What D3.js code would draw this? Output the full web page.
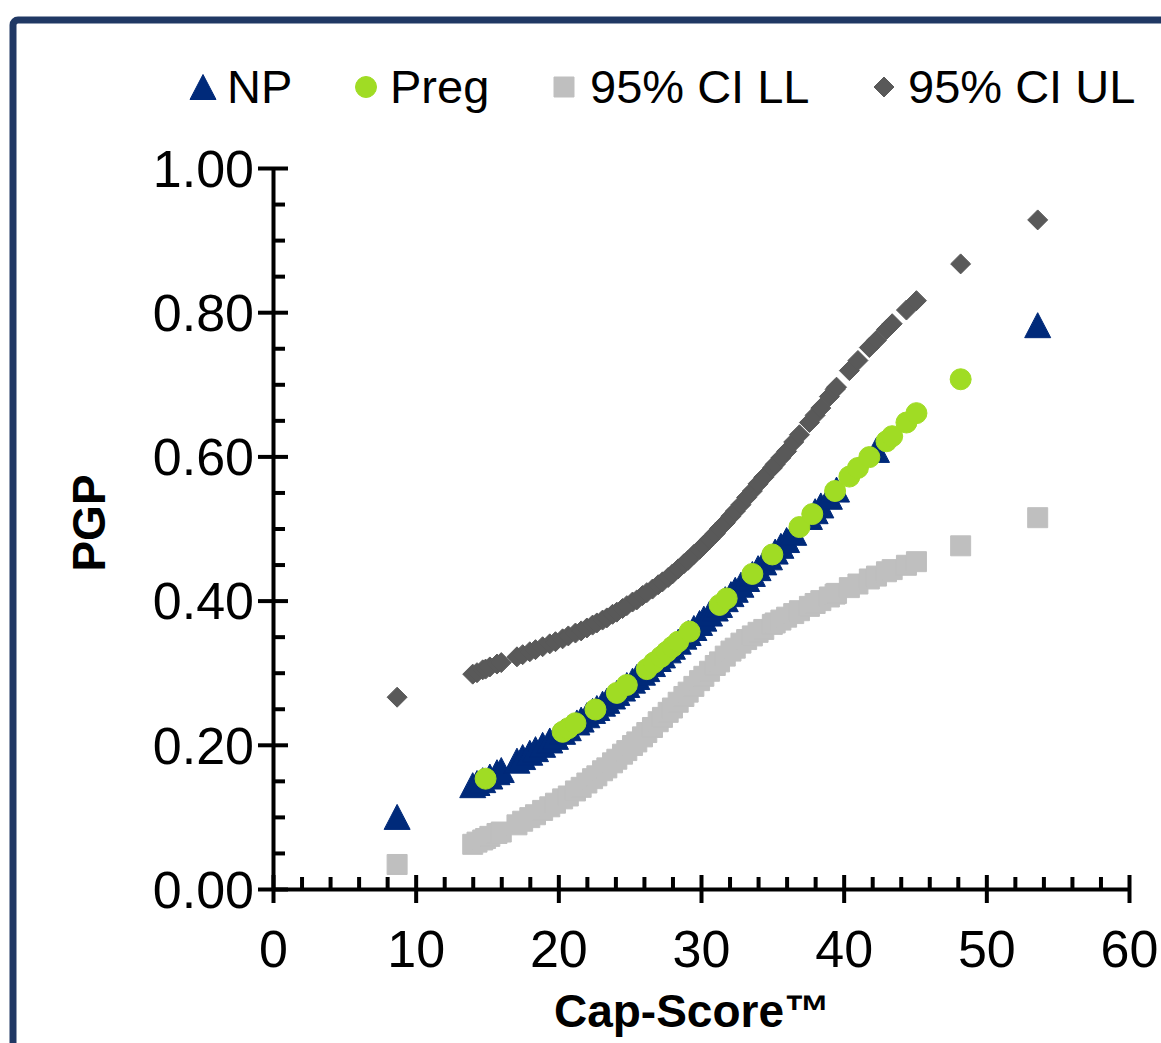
<!DOCTYPE html>
<html><head><meta charset="utf-8">
<script src="https://cdn.jsdelivr.net/npm/d3@7"></script>
<style>
body{margin:0;background:#fff;}
svg{display:block;}
text{font-family:"Liberation Sans", Arial, sans-serif;fill:#000;}
</style>
</head><body>
<svg id="c" width="1161" height="1043"></svg>
<script>
// ---- data ----
const npX = [8.7,14.0,14.3,14.7,15.2,15.7,16.0,17.1,17.5,18.0,18.4,18.9,19.4,19.8,20.3,20.7,21.3,21.6,22.0,22.4,22.7,23.1,23.4,23.8,24.1,24.5,24.8,25.2,25.5,25.9,26.2,26.6,27.0,27.3,27.7,28.0,28.4,28.8,29.1,29.5,29.9,30.2,30.6,31.0,31.3,31.7,32.1,32.4,32.8,33.2,33.6,34.0,34.4,34.8,35.2,35.6,36.0,36.5,37.6,38.0,38.4,39.0,39.5,42.3,53.6];
const npY = [0.100,0.144,0.147,0.151,0.156,0.162,0.165,0.178,0.183,0.189,0.194,0.200,0.206,0.211,0.218,0.223,0.231,0.235,0.241,0.247,0.251,0.257,0.261,0.267,0.272,0.278,0.283,0.289,0.294,0.300,0.305,0.312,0.319,0.324,0.331,0.336,0.343,0.350,0.355,0.362,0.369,0.375,0.382,0.389,0.394,0.402,0.409,0.415,0.422,0.430,0.437,0.445,0.453,0.460,0.468,0.476,0.484,0.494,0.516,0.524,0.532,0.544,0.554,0.609,0.782];

const pregX = [14.9,20.3,20.7,21.2,22.6,24.1,24.8,26.2,26.7,27.2,27.6,28.0,28.4,29.2,31.3,31.8,33.6,35.0,36.9,37.8,39.4,40.4,41.0,41.8,43.0,43.4,44.4,45.1,48.2];
const pregY = [0.153,0.218,0.223,0.230,0.249,0.272,0.283,0.305,0.314,0.322,0.329,0.336,0.343,0.357,0.394,0.403,0.437,0.464,0.502,0.520,0.552,0.572,0.584,0.599,0.621,0.628,0.647,0.660,0.707];

const ciX  = [8.7,14.0,14.3,14.7,14.9,15.2,15.7,16.0,17.1,17.5,18.0,18.4,18.9,19.4,19.8,20.3,20.7,21.2,21.6,22.0,22.4,22.7,23.1,23.4,23.8,24.1,24.5,24.8,25.2,25.5,25.9,26.2,26.6,27.0,27.3,27.7,28.0,28.4,28.8,29.1,29.5,29.9,30.2,30.6,31.0,31.3,31.7,32.1,32.4,32.8,33.2,33.6,34.0,34.4,35.0,35.2,35.6,36.0,36.5,36.9,37.6,38.0,38.4,39.0,39.4,39.5,40.4,41.0,41.8,42.3,43.0,43.4,44.4,45.1,48.2,53.6];
const ciLL = [0.034,0.062,0.065,0.068,0.070,0.073,0.077,0.079,0.089,0.094,0.099,0.103,0.109,0.114,0.119,0.125,0.129,0.136,0.141,0.147,0.153,0.157,0.164,0.168,0.175,0.180,0.187,0.192,0.199,0.204,0.211,0.217,0.224,0.232,0.238,0.245,0.251,0.259,0.267,0.273,0.281,0.289,0.295,0.302,0.310,0.315,0.323,0.330,0.334,0.341,0.346,0.351,0.356,0.360,0.367,0.369,0.373,0.377,0.382,0.386,0.392,0.396,0.400,0.405,0.409,0.410,0.418,0.423,0.430,0.434,0.440,0.443,0.449,0.454,0.476,0.515];
const ciUL = [0.266,0.298,0.300,0.304,0.305,0.308,0.312,0.314,0.322,0.325,0.329,0.332,0.336,0.340,0.343,0.347,0.351,0.355,0.358,0.362,0.366,0.369,0.373,0.376,0.381,0.384,0.389,0.393,0.398,0.401,0.407,0.411,0.416,0.422,0.426,0.432,0.437,0.444,0.451,0.456,0.464,0.471,0.477,0.485,0.493,0.500,0.508,0.517,0.524,0.533,0.543,0.552,0.562,0.571,0.584,0.589,0.598,0.607,0.620,0.630,0.647,0.657,0.667,0.683,0.693,0.696,0.719,0.733,0.751,0.761,0.776,0.784,0.803,0.816,0.867,0.928];

const xMajor = [0,10,20,30,40,50,60];
const yMajor = [0,0.2,0.4,0.6,0.8,1.0];
const legendLabels = ["NP","Preg","95% CI LL","95% CI UL"];
const xTitle = "Cap-Score\u2122";
const yTitle = "PGP";

// ---- drawing ----
const svg = d3.select("#c");
const colors = {np:"#002A7A", preg:"#A0DC24", ll:"#BFBFBF", ul:"#595959"};

// frame
svg.append("rect").attr("x",13).attr("y",20).attr("width",1300).attr("height",1200)
  .attr("rx",5).attr("fill","none").attr("stroke","#203864").attr("stroke-width",7);

const x = d3.scaleLinear().domain([0,60]).range([273,1129]);
const y = d3.scaleLinear().domain([0,1]).range([889,168]);

const sym = {
  tri: "M0,-12.5L13,12.5L-13,12.5Z",
  circ: d3.symbol().type(d3.symbolCircle).size(Math.PI*10.5*10.5)(),
  sq: "M-10,-10H10V10H-10Z",
  dia: "M0,-10L10,0L0,10L-10,0Z"
};

function series(xs, ys, path, color){
  svg.append("g").selectAll("path").data(xs.map((d,i)=>[d,ys[i]])).join("path")
    .attr("d", path).attr("fill", color).attr("stroke", color).attr("stroke-width",1).attr("stroke-linejoin","round")
    .attr("transform", d=>`translate(${x(d[0])},${y(d[1])})`);
}
series(npX, npY, sym.tri, colors.np);
series(pregX, pregY, sym.circ, colors.preg);
series(ciX, ciLL, sym.sq, colors.ll);
series(ciX, ciUL, sym.dia, colors.ul);

// y axis
const yMinor = d3.range(0,1.0001,0.05).filter(v=>Math.abs(Math.round(v*5)-v*5)>1e-6);
const gyMin = svg.append("g").attr("transform","translate(273,0)")
  .call(d3.axisRight(y).tickValues(yMinor).tickSize(12).tickSizeOuter(0).tickFormat(""));
gyMin.select(".domain").remove();
gyMin.selectAll(".tick line").attr("stroke","#000").attr("stroke-width",4);

const gy = svg.append("g").attr("transform","translate(273,0)")
  .call(d3.axisLeft(y).tickValues(yMajor).tickFormat(d3.format(".2f")).tickSize(15).tickSizeOuter(0).tickPadding(4));
gy.select(".domain").attr("stroke","#000").attr("stroke-width",4);
gy.selectAll(".tick line").attr("x1",15).attr("x2",-15).attr("stroke","#000").attr("stroke-width",4);
gy.selectAll(".tick text").attr("font-size",52).attr("font-family","Liberation Sans, Arial, sans-serif").attr("dy","0.35em");

// x axis
const xMinor = d3.range(0,60.001,2).filter(v=>v%10!==0);
const gxMin = svg.append("g").attr("transform","translate(0,889)")
  .call(d3.axisTop(x).tickValues(xMinor).tickSize(12).tickSizeOuter(0).tickFormat(""));
gxMin.select(".domain").remove();
gxMin.selectAll(".tick line").attr("stroke","#000").attr("stroke-width",4);

const gx = svg.append("g").attr("transform","translate(0,889)")
  .call(d3.axisBottom(x).tickValues(xMajor).tickFormat(d3.format("d")).tickSize(14).tickSizeOuter(0).tickPadding(27));
gx.select(".domain").attr("stroke","#000").attr("stroke-width",4);
gx.selectAll(".tick line").attr("y1",-14).attr("y2",14).attr("stroke","#000").attr("stroke-width",4);
gx.selectAll(".tick text").attr("font-size",52).attr("font-family","Liberation Sans, Arial, sans-serif");

// axis titles
svg.append("text").attr("x",692).attr("y",1027).attr("text-anchor","middle")
  .attr("font-size",46).attr("font-weight","bold").text(xTitle);
svg.append("text").attr("transform","translate(105,523) rotate(-90)").attr("text-anchor","middle")
  .attr("font-size",46).attr("font-weight","bold").text(yTitle);

// legend
const legPos = [[203,227],[366,390],[564,590],[884,908]];
const legSym = [sym.tri, sym.circ, sym.sq, sym.dia];
const legCol = [colors.np, colors.preg, colors.ll, colors.ul];
const lg = svg.append("g");
legendLabels.forEach((lab,i)=>{
  lg.append("path").attr("d",legSym[i]).attr("fill",legCol[i]).attr("stroke",legCol[i]).attr("stroke-width",1)
    .attr("transform",`translate(${legPos[i][0]},87)`);
  lg.append("text").attr("x",legPos[i][1]).attr("y",103).attr("font-size",47).text(lab);
});
</script>
</body></html>
